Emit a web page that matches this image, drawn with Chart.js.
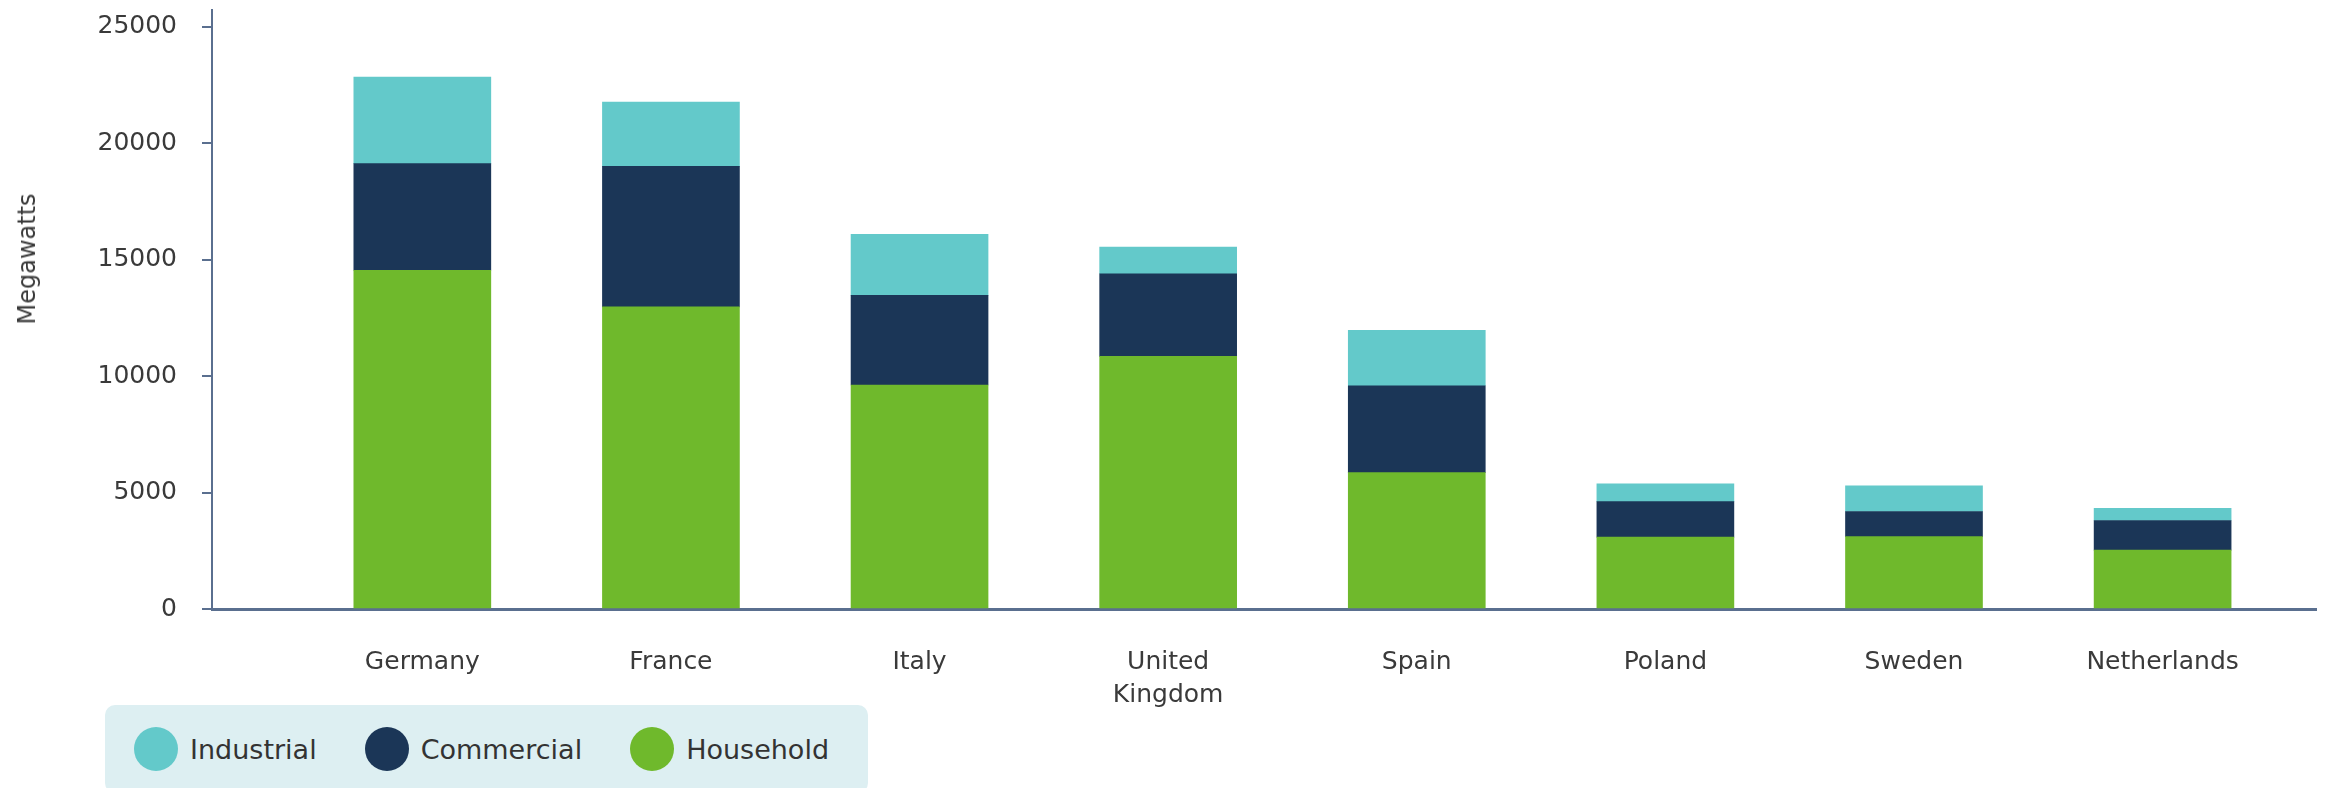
<!DOCTYPE html>
<html>
<head>
<meta charset="utf-8">
<title>Installed capacity by country</title>
<script src="https://cdn.jsdelivr.net/npm/chart.js@4.4.1/dist/chart.umd.min.js"></script>
<style>
  html, body { margin: 0; padding: 0; background: #fff; }
  #wrap { position: relative; width: 2325px; height: 788px; overflow: hidden; }
  #yTitle {
    position: absolute; left: 27px; top: 259px;
    transform: translate(-50%, -50%) rotate(-90deg);
    font: 24px 'DejaVu Sans', sans-serif; color: #3a3a3a; white-space: nowrap;
  }
  #legend {
    position: absolute; left: 105px; top: 705px; height: 88px;
    background: #ddeff2; border-radius: 10px;
    display: flex; align-items: center; gap: 48px;
    padding: 0 39px 0 29px; box-sizing: border-box;
  }
  .item { display: flex; align-items: center; font: 27px 'DejaVu Sans', sans-serif; color: #333; }
  .dot { width: 44px; height: 44px; border-radius: 50%; margin-right: 12px; }
</style>
</head>
<body>
<div id="wrap">
  <canvas id="capacityChart" width="2325" height="788"></canvas>
  <div id="yTitle">Megawatts</div>
  <div id="legend"></div>
</div>
<script>
// Chart data (megawatts)
const countries = ['Germany', 'France', 'Italy', ['United', 'Kingdom'], 'Spain', 'Poland', 'Sweden', 'Netherlands'];
const household = [14550, 12980, 9620, 10850, 5860, 3090, 3110, 2530];
const commercial = [4580, 6030, 3850, 3550, 3730, 1520, 1080, 1270];
const industrial = [3720, 2760, 2620, 1150, 2380, 770, 1100, 520];
const yTicks = [0, 5000, 10000, 15000, 20000, 25000];

const axisColor = '#5a6f8f';
const labelColor = '#3a3a3a';

// bars sit on a linear x scale so the spacing can match the original
const toPoints = vals => vals.map((v, i) => ({ x: i, y: v }));

const ctx = document.getElementById('capacityChart').getContext('2d');
const capacityChart = new Chart(ctx, {
    type: 'bar',
    data: {
        datasets: [
            { label: 'Household', data: toPoints(household), backgroundColor: '#6fb92c' },
            { label: 'Commercial', data: toPoints(commercial), backgroundColor: '#1b3657' },
            { label: 'Industrial', data: toPoints(industrial), backgroundColor: '#63c9ca' }
        ]
    },
    options: {
        responsive: false,
        animation: false,
        barThickness: 137,
        borderWidth: 0,
        layout: { padding: { top: 10, right: 9, left: 0, bottom: 0 } },
        plugins: {
            legend: { display: false },
            tooltip: { enabled: false }
        },
        scales: {
            x: {
                type: 'linear',
                stacked: true,
                offset: false,
                min: -0.846,
                max: 7.617,
                grid: { display: false, drawTicks: false },
                border: { display: true, color: axisColor, width: 3 },
                afterBuildTicks: scale => {
                    scale.ticks = countries.map((c, i) => ({ value: i }));
                },
                ticks: {
                    autoSkip: false,
                    maxRotation: 0,
                    padding: 37,
                    color: labelColor,
                    font: { family: 'DejaVu Sans', size: 25, lineHeight: 1.32 },
                    callback: value => countries[value]
                },
                afterFit: scale => { scale.height = 179; }
            },
            y: {
                stacked: true,
                min: 0,
                max: 25730,
                afterBuildTicks: scale => {
                    scale.ticks = yTicks.map(v => ({ value: v }));
                },
                grid: { drawOnChartArea: false, drawTicks: true, tickLength: 10, color: axisColor, lineWidth: 2 },
                border: { display: true, color: axisColor, width: 2 },
                ticks: {
                    padding: 25,
                    color: labelColor,
                    font: { family: 'DejaVu Sans', size: 25 },
                    callback: value => String(value)
                },
                afterFit: scale => {
                    scale.width = 212;
                    // tick padding would otherwise push the plot top down
                    scale.paddingTop = 10;
                    scale.paddingBottom = 10;
                }
            }
        }
    }
});

// Legend below the chart, top of the stack first
const legendBox = document.getElementById('legend');
capacityChart.data.datasets.slice().reverse().forEach(ds => {
    const item = document.createElement('div');
    item.className = 'item';
    const dot = document.createElement('span');
    dot.className = 'dot';
    dot.style.background = ds.backgroundColor;
    item.appendChild(dot);
    item.appendChild(document.createTextNode(ds.label));
    legendBox.appendChild(item);
});
</script>
</body>
</html>
